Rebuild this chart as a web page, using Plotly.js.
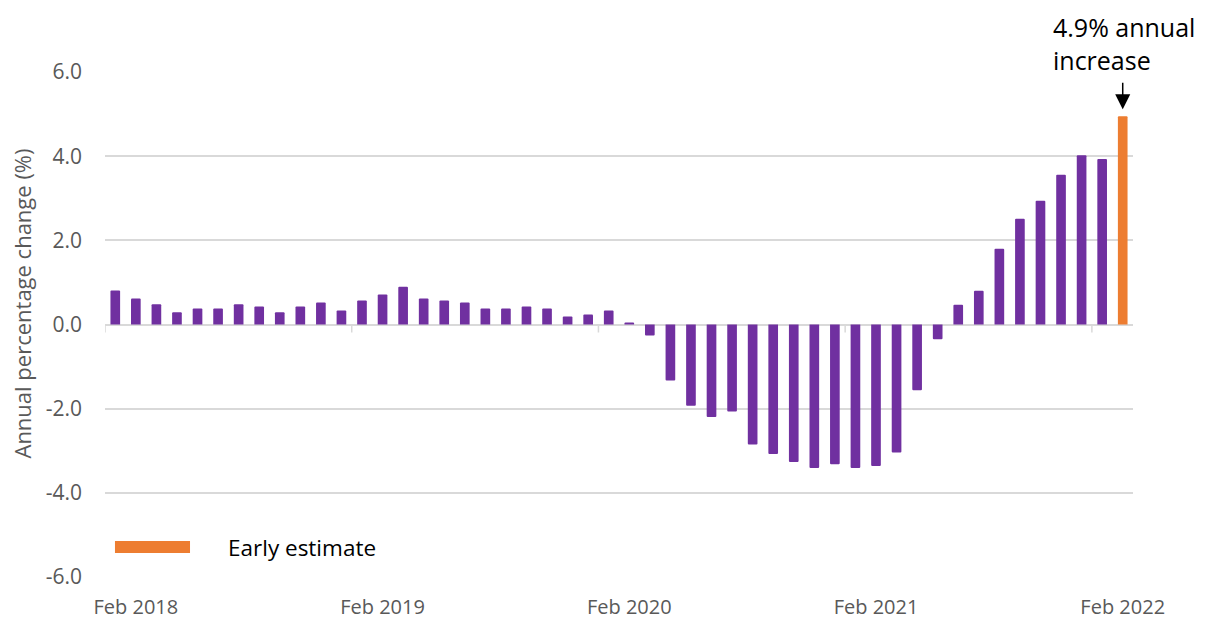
<!DOCTYPE html>
<html>
<head>
<meta charset="utf-8">
<script src="https://cdn.plot.ly/plotly-3.0.1.min.js"></script>
<style>html,body{margin:0;padding:0;background:#fff;}#chart{width:1208px;height:619px;}</style>
</head>
<body>
<div id="chart"></div>
<script>
const months = [
  "Jan 2018","Feb 2018","Mar 2018","Apr 2018","May 2018","Jun 2018","Jul 2018","Aug 2018","Sep 2018","Oct 2018","Nov 2018","Dec 2018",
  "Jan 2019","Feb 2019","Mar 2019","Apr 2019","May 2019","Jun 2019","Jul 2019","Aug 2019","Sep 2019","Oct 2019","Nov 2019","Dec 2019",
  "Jan 2020","Feb 2020","Mar 2020","Apr 2020","May 2020","Jun 2020","Jul 2020","Aug 2020","Sep 2020","Oct 2020","Nov 2020","Dec 2020",
  "Jan 2021","Feb 2021","Mar 2021","Apr 2021","May 2021","Jun 2021","Jul 2021","Aug 2021","Sep 2021","Oct 2021","Nov 2021","Dec 2021",
  "Jan 2022","Feb 2022"
];
const annualChange = [
  0.81,0.62,0.48,0.29,0.38,0.38,0.48,0.43,0.29,0.43,0.52,0.33,
  0.57,0.71,0.90,0.62,0.57,0.52,0.38,0.38,0.43,0.38,0.19,0.24,
  0.33,0.05,-0.26,-1.33,-1.93,-2.20,-2.07,-2.85,-3.08,-3.27,-3.41,-3.32,
  -3.41,-3.36,-3.04,-1.56,-0.35,0.47,0.80,1.80,2.51,2.94,3.56,4.02,
  3.93,4.95
];
const estimateMonths = ["Feb 2022"];
const tickLabels = ["Feb 2018","Feb 2019","Feb 2020","Feb 2021","Feb 2022"];
const yTicks = [-6,-4,-2,0,2,4,6];
const yTitle = "Annual percentage change (%)";
const legendLabel = "Early estimate";
const calloutText = "4.9% annual<br>increase";

const PURPLE = "#7030a0", ORANGE = "#ed7d31", GRID = "#d9d9d9", TXT = "#595959";
const barColors = months.map(m => estimateMonths.includes(m) ? ORANGE : PURPLE);

const trace = {
  type: "bar",
  x: months,
  y: annualChange,
  marker: {color: barColors, line: {width: 0}, cornerradius: 1},
  hoverinfo: "x+y",
  showlegend: false
};

// small tick marks on the zero line, at category boundaries before each labelled year
const tickShapes = tickLabels.map(t => {
  const pos = months.indexOf(t) - 1.5;
  return {type: "line", xref: "x", yref: "y", ysizemode: "pixel", yanchor: 0,
          x0: pos, x1: pos, y0: 0, y1: -8, line: {color: GRID, width: 1.5}};
});

const lastMonth = estimateMonths[0];
const lastVal = annualChange[months.indexOf(lastMonth)];

const layout = {
  width: 1208, height: 619,
  margin: {l: 105, r: 75, t: 72, b: 42},
  paper_bgcolor: "#fff", plot_bgcolor: "#fff",
  bargap: 0.53,
  font: {family: "Open Sans, sans-serif", color: TXT},
  xaxis: {
    type: "category",
    tickmode: "array", tickvals: tickLabels, ticktext: tickLabels,
    showgrid: false, zeroline: false, showline: false, ticks: "",
    tickfont: {size: 20, color: TXT},
    ticklabelstandoff: 16,
    range: [-0.5, months.length - 0.5]
  },
  yaxis: {
    range: [-6, 6],
    tickmode: "array", tickvals: yTicks, ticktext: yTicks.map(v => v.toFixed(1)),
    showgrid: true, gridcolor: GRID, gridwidth: 1.5,
    zeroline: true, zerolinecolor: GRID, zerolinewidth: 1.5,
    showline: false, ticks: "",
    tickfont: {size: 21, color: TXT},
    ticklabelstandoff: 22
  },
  shapes: tickShapes.concat([
    {type: "rect", xref: "paper", yref: "paper", x0: 0.0097, x1: 0.0827, y0: 0.0475, y1: 0.0713,
     fillcolor: ORANGE, line: {width: 0}}
  ]),
  annotations: [
    {xref: "paper", yref: "paper", x: -0.0807, y: 0.5416, xanchor: "center", yanchor: "middle",
     textangle: -90, text: yTitle, showarrow: false, font: {size: 22, color: TXT}},
    {xref: "paper", yref: "paper", x: 0.1177, y: 0.0594, xanchor: "left", yanchor: "middle",
     text: legendLabel, showarrow: false, font: {size: 22.5, color: "#000"}},
    {xref: "x", yref: "y", x: lastMonth, y: lastVal, text: "", showarrow: true,
     ax: 0, ay: -35, standoff: 7, arrowhead: 2, arrowsize: 2, arrowwidth: 1.5, arrowcolor: "#000"},
    {xref: "x", yref: "paper", x: lastMonth, y: 1, xanchor: "left", yanchor: "middle", align: "left",
     xshift: -72, yshift: 29, text: calloutText, showarrow: false, font: {size: 25, color: "#000"}}
  ]
};

Plotly.newPlot("chart", [trace], layout, {displayModeBar: false, responsive: false});
</script>
</body>
</html>
